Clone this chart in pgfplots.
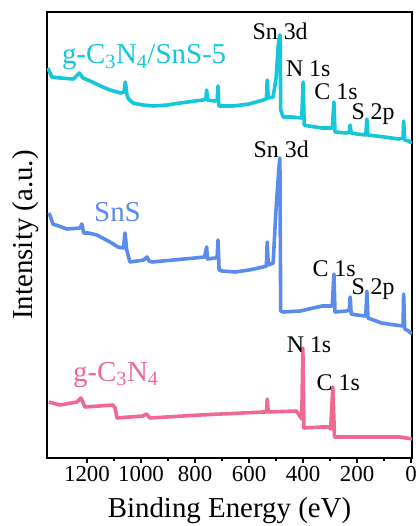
\documentclass[border=0pt]{standalone}
\usepackage{fontspec}
\setmainfont{Liberation Serif}
\usepackage{pgfplots}
\pgfplotsset{compat=1.18}

\definecolor{ccyan}{RGB}{20,200,218}
\definecolor{cblue}{RGB}{90,140,235}
\definecolor{cpink}{RGB}{240,105,145}

\begin{document}
\begin{tikzpicture}
\begin{axis}[
    scale only axis,
    width=365bp,
    height=446bp,
    x dir=reverse,
    xmin=-3, xmax=1348,
    ymin=0, ymax=446,
    xtick={0,200,...,1200},
    minor x tick num=1,
    ytick=\empty,
    xtick pos=left,
    tick align=outside,
    major tick length=5bp,
    minor tick length=3bp,
    every tick/.style={black, line width=1.6bp},
    axis line style={line width=2.4bp},
    /pgf/number format/assume math mode=true,
    /pgf/number format/1000 sep={},
    tick label style={font=\fontsize{23}{27}\selectfont},
    xlabel={Binding Energy (eV)},
    ylabel={Intensity (a.u.)},
    label style={font=\fontsize{29}{34}\selectfont},
    xlabel style={at={(axis description cs:0.5,-0.1345)}, anchor=base},
    ylabel style={at={(axis description cs:-0.041,0.5)}, anchor=base},
    every axis plot/.append style={line width=3.6bp, line join=round},
]

% g-C3N4/SnS-5
\addplot[ccyan] coordinates {
(1345,390) (1330,381) (1300,380) (1250,379) (1228,385) (1215,380)
(1180,376) (1150,372) (1115,368) (1075,365) (1063,366) (1058,376)
(1052,363) (1046,359) (1030,355) (993,353) (956,352) (900,353)
(881,354) (800,357) (770,358) (760,359) (757,368) (754,358)
(725,357) (718,358) (715,372) (712,352) (700,352) (659,352)
(600,354) (548,358) (536,359) (533,378) (529,360) (511,361)
(500,380) (492,413) (487,423) (485,423) (483,348)
(474,341) (440,341) (405,340) (400,376) (396,333) (380,332)
(330,330) (292,330) (286,356) (282,326) (240,325) (229,326)
(226,333) (222,325) (200,324) (168,323) (164,339) (160,323)
(100,321) (45,319) (30,320) (28,337) (24,318) (10,317) (-3,315)
};

% SnS
\addplot[cblue] coordinates {
(1340,245) (1326,234) (1274,229) (1226,230) (1219,234) (1212,225)
(1196,225) (1163,223) (1115,216) (1085,211) (1065,210) (1059,225)
(1053,208) (1041,196) (990,198) (978,201) (970,197) (959,196)
(881,198) (800,200) (765,201) (757,211) (754,199) (726,200)
(718,201) (715,218) (711,188) (700,187) (652,186) (600,188)
(548,191) (536,192) (533,216) (529,193) (511,195) (500,250)
(490,288) (486,300) (483,147) (474,146)
(411,147) (330,152) (292,152) (286,184) (282,146) (240,147)
(229,148) (226,161) (222,144) (200,143) (168,142) (164,167)
(160,140) (110,135) (60,133) (30,132) (28,164) (24,129)
(10,127) (-3,124)
};

% g-C3N4
\addplot[cpink] coordinates {
(1341,56) (1300,53) (1237,56) (1222,60) (1207,51) (1104,53)
(1096,50) (1089,40) (993,42) (980,44) (967,40) (781,43)
(548,46) (536,46) (533,59) (529,46) (425,47) (412,42)
(405,39) (401,110) (397,30) (330,31) (305,31) (298,29)
(290,71) (284,21) (200,21) (100,21) (41,21) (-3,19)
};

% peak labels
\begin{scope}[every node/.style={anchor=base, font=\fontsize{24}{28}\selectfont, inner sep=0pt}]
\node at (axis cs:485,418) {Sn 3d};
\node at (axis cs:381,381) {N 1s};
\node at (axis cs:278,358) {C 1s};
\node at (axis cs:141,338) {S 2p};
\node at (axis cs:481,300) {Sn 3d};
\node at (axis cs:285,181) {C 1s};
\node at (axis cs:141,163) {S 2p};
\node at (axis cs:378,105) {N 1s};
\node at (axis cs:270,68) {C 1s};
\end{scope}

% series labels
\begin{scope}[every node/.style={anchor=base west, font=\fontsize{29}{34}\selectfont, inner sep=0pt}]
\node[text=ccyan] at (axis cs:1293,394) {g-C\textsubscript{3}N\textsubscript{4}/SnS-5};
\node[text=cblue] at (axis cs:1174,236) {SnS};
\node[text=cpink] at (axis cs:1252,77) {g-C\textsubscript{3}N\textsubscript{4}};
\end{scope}
\end{axis}
\pgfresetboundingbox
\path ([xshift=-47bp,yshift=12bp]current axis.north west) rectangle ([xshift=6bp,yshift=-68bp]current axis.south east);
\end{tikzpicture}
\end{document}
